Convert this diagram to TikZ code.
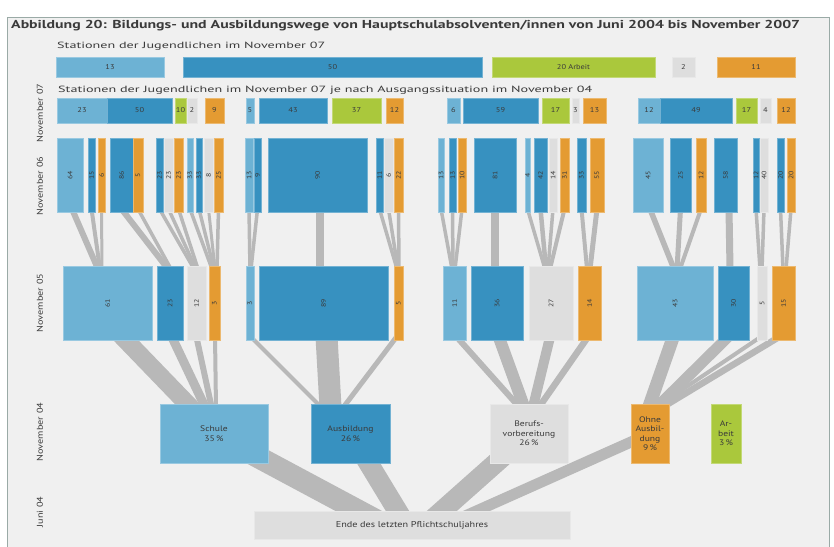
\documentclass[tikz,border=0pt]{standalone}
\usepackage{fontspec}
\usepackage{graphicx}
\setmainfont{PT Sans}[FakeStretch=1.2]
\usetikzlibrary{calc}
\definecolor{lb}{HTML}{6DB2D4}
\definecolor{bl}{HTML}{3791C0}
\definecolor{gr}{HTML}{AAC83C}
\definecolor{gy}{HTML}{DEDEDE}
\definecolor{og}{HTML}{E49B32}
\definecolor{cg}{HTML}{B8B8B8}
\definecolor{bgc}{HTML}{F0F0F0}
\definecolor{txt}{HTML}{3A3A3A}
\definecolor{frm}{HTML}{9AAAA6}
\pgfdeclarelayer{bgl}\pgfdeclarelayer{cnl}\pgfsetlayers{bgl,cnl,main}
\tikzset{
  bxs/.style={inner sep=0pt,outer sep=0pt,line width=0.5pt,text=txt},
  bbox/.style={inner sep=0pt,outer sep=0pt,line width=0.5pt,text=txt,align=center,font=\fontsize{8}{9.5}\selectfont},
  conn/.style={draw=cg,line cap=butt},
  side/.style={rotate=90,text=txt,font=\fontsize{8.5}{10}\selectfont}
}
\newcommand\bx[7]{\node[bxs,fill=#6,draw=#6!70!white,minimum width={(#4-#2)*1pt},minimum height={(#5-#3)*1pt},anchor=north west] (#1) at (#2,#3) {#7};}
\newcommand\rl[1]{\makebox[0pt]{\rotatebox{90}{\fontsize{6.5}{7}\selectfont #1}}}
\newcommand\hl[1]{\makebox[0pt]{\fontsize{7}{8}\selectfont #1}}
\newcommand\cn[6]{\draw[conn,line width=#5pt] ($(#2,0 |- #1.south)+(0,-#6)$) -- ($(#4,0 |- #3.north)+(0,#6)$);}
\begin{document}
\begin{tikzpicture}[x=1pt,y=-1pt]
\useasboundingbox (0,0) rectangle (834,546);
\begin{pgfonlayer}{bgl}
\fill[white] (0,0) rectangle (834,546);
\filldraw[fill=bgc,draw=frm,line width=0.8pt] (7,17) rectangle (829,552);
\end{pgfonlayer}
% texts
\node[anchor=west,inner sep=0,text=txt] (title) at (11,25.5) {\resizebox{789pt}{\height}{\bfseries\fontsize{11.5}{13}\selectfont Abbildung 20: Bildungs- und Ausbildungswege von Hauptschulabsolventen/innen von Juni 2004 bis November 2007}};
\node[anchor=west,inner sep=0,text=txt] (sub1) at (57,46.5) {\resizebox{268pt}{\height}{\fontsize{9}{11}\selectfont Stationen der Jugendlichen im November 07}};
\node[anchor=west,inner sep=0,text=txt] (sub2) at (58,90) {\resizebox{534pt}{\height}{\fontsize{9}{11}\selectfont Stationen der Jugendlichen im November 07 je nach Ausgangssituation im November 04}};
\node[side] (l7) at (40,113) {November 07};
\node[side] (l6) at (40,186) {November 06};
\node[side] (l5) at (40,303) {November 05};
\node[side] (l4) at (40,432) {November 04};
\node[side] (l0) at (40,512) {Juni 04};
% top bars
\bx{t1}{56}{57}{164}{77}{lb}{\hl{13}}
\bx{t2}{183}{57}{482}{77}{bl}{\hl{50}}
\bx{t3}{492}{57}{655}{77}{gr}{\hl{20 Arbeit}}
\bx{t4}{672}{57}{695}{77}{gy}{\hl{2}}
\bx{t5}{717}{57}{795}{77}{og}{\hl{11}}
% November 07
\bx{s1a}{57}{98}{107}{123}{lb}{\hl{23}}
\bx{s1b}{107}{98}{172}{123}{bl}{\hl{50}}
\bx{s1c}{175}{98}{186}{123}{gr}{\hl{10}}
\bx{s1d}{187}{98}{197}{123}{gy}{\hl{2}}
\bx{s1e}{205}{98}{224}{123}{og}{\hl{9}}
\bx{s2a}{246}{98}{254}{123}{lb}{\hl{5}}
\bx{s2b}{259}{98}{327}{123}{bl}{\hl{43}}
\bx{s2c}{332}{98}{381}{123}{gr}{\hl{37}}
\bx{s2d}{386}{98}{403}{123}{og}{\hl{12}}
\bx{s3a}{447}{98}{460}{123}{lb}{\hl{6}}
\bx{s3b}{463}{98}{538}{123}{bl}{\hl{59}}
\bx{s3c}{542}{98}{569}{123}{gr}{\hl{17}}
\bx{s3d}{572}{98}{579}{123}{gy}{\hl{3}}
\bx{s3e}{583}{98}{606}{123}{og}{\hl{13}}
\bx{s4a}{638}{98}{660}{123}{lb}{\hl{12}}
\bx{s4b}{660}{98}{732}{123}{bl}{\hl{49}}
\bx{s4c}{736}{98}{757}{123}{gr}{\hl{17}}
\bx{s4d}{760}{98}{771}{123}{gy}{\hl{4}}
\bx{s4e}{777}{98}{795}{123}{og}{\hl{12}}
% November 06
\bx{p1}{57}{138}{83}{212}{lb}{\rl{64}}
\bx{p2}{88}{138}{95}{212}{bl}{\rl{15}}
\bx{p3}{98}{138}{105}{212}{og}{\rl{6}}
\bx{p4}{110}{138}{133}{212}{bl}{\rl{86}}
\bx{p5}{133}{138}{143}{212}{og}{\rl{5}}
\bx{p6}{156}{138}{163}{212}{bl}{\rl{23}}
\bx{p7}{164}{138}{173}{212}{gy}{\rl{23}}
\bx{p8}{174}{138}{183}{212}{og}{\rl{23}}
\bx{p9}{187}{138}{193}{212}{lb}{\rl{33}}
\bx{p10}{196}{138}{202}{212}{bl}{\rl{33}}
\bx{p11}{204}{138}{213}{212}{gy}{\rl{8}}
\bx{p12}{214}{138}{223}{212}{og}{\rl{25}}
\bx{q1}{245}{138}{253}{212}{lb}{\rl{13}}
\bx{q2}{254}{138}{261}{212}{bl}{\rl{9}}
\bx{q3}{268}{138}{367}{212}{bl}{\rl{90}}
\bx{q4}{376}{138}{383}{212}{bl}{\rl{11}}
\bx{q5}{384}{138}{393}{212}{gy}{\rl{6}}
\bx{q6}{394}{138}{403}{212}{og}{\rl{22}}
\bx{r1}{438}{138}{444}{212}{lb}{\rl{13}}
\bx{r2}{449}{138}{456}{212}{bl}{\rl{13}}
\bx{r3}{458}{138}{466}{212}{og}{\rl{10}}
\bx{r4}{474}{138}{516}{212}{bl}{\rl{81}}
\bx{r5}{525}{138}{530}{212}{lb}{\rl{4}}
\bx{r6}{534}{138}{547}{212}{bl}{\rl{42}}
\bx{r7}{549}{138}{557}{212}{gy}{\rl{14}}
\bx{r8}{560}{138}{569}{212}{og}{\rl{31}}
\bx{r9}{577}{138}{586}{212}{bl}{\rl{33}}
\bx{r10}{590}{138}{604}{212}{og}{\rl{55}}
\bx{u1}{633}{138}{663}{212}{lb}{\rl{45}}
\bx{u2}{670}{138}{691}{212}{bl}{\rl{25}}
\bx{u3}{696}{138}{706}{212}{og}{\rl{12}}
\bx{u4}{714}{138}{737}{212}{bl}{\rl{58}}
\bx{u5}{753}{138}{759}{212}{bl}{\rl{12}}
\bx{u6}{760}{138}{768}{212}{gy}{\rl{40}}
\bx{u7}{777}{138}{784}{212}{bl}{\rl{20}}
\bx{u8}{787}{138}{795}{212}{og}{\rl{20}}
% November 05
\bx{m1a}{63}{266}{152}{340}{lb}{\rl{61}}
\bx{m1b}{157}{266}{183}{340}{bl}{\rl{23}}
\bx{m1c}{187}{266}{206}{340}{gy}{\rl{12}}
\bx{m1d}{209}{266}{220}{340}{og}{\rl{3}}
\bx{m2a}{246}{266}{254}{340}{lb}{\rl{3}}
\bx{m2b}{259}{266}{388}{340}{bl}{\rl{89}}
\bx{m2c}{394}{266}{403}{340}{og}{\rl{5}}
\bx{m3a}{443}{266}{466}{340}{lb}{\rl{11}}
\bx{m3b}{471}{266}{523}{340}{bl}{\rl{36}}
\bx{m3c}{529}{266}{573}{340}{gy}{\rl{27}}
\bx{m3d}{578}{266}{601}{340}{og}{\rl{14}}
\bx{m4a}{637}{266}{713}{340}{lb}{\rl{43}}
\bx{m4b}{718}{266}{749}{340}{bl}{\rl{30}}
\bx{m4c}{757}{266}{767}{340}{gy}{\rl{5}}
\bx{m4d}{772}{266}{795}{340}{og}{\rl{15}}
% November 04
\node[bbox,fill=lb,draw=lb!70!white,minimum width=108pt,minimum height=59pt,anchor=north west] (schule) at (160,404) {Schule\\35\,\%};
\node[bbox,fill=bl,draw=bl!70!white,minimum width=79pt,minimum height=59pt,anchor=north west] (ausb) at (311,404) {Ausbildung\\26\,\%};
\node[bbox,fill=gy,draw=gy!70!white,minimum width=78pt,minimum height=59pt,anchor=north west] (beruf) at (490,404) {Berufs-\\vorbereitung\\26\,\%};
\node[bbox,fill=og,draw=og!70!white,minimum width=38pt,minimum height=59pt,anchor=north west] (ohne) at (631,404) {Ohne\\Ausbil-\\dung\\9\,\%};
\node[bbox,fill=gr,draw=gr!70!white,minimum width=30pt,minimum height=59pt,anchor=north west] (arbeit) at (711,404) {Ar-\\beit\\3\,\%};
\node[bbox,fill=gy,draw=gy!70!white,minimum width=316pt,minimum height=28pt,anchor=north west,font=\fontsize{8.5}{10}\selectfont] (ende) at (254,511) {Ende des letzten Pflichtschuljahres};
% connectors
\begin{pgfonlayer}{cnl}
\cn{p1}{72}{m1a}{98}{6}{3}
\cn{p2}{91.5}{m1a}{100}{4}{3}
\cn{p3}{101.5}{m1a}{102}{3}{3}
\cn{p4}{121.5}{m1b}{168}{6}{3}
\cn{p5}{138}{m1b}{171}{3.5}{3}
\cn{p6}{159.5}{m1c}{194}{3.5}{3}
\cn{p7}{168.5}{m1c}{196}{3.5}{3}
\cn{p8}{178.5}{m1c}{198}{3.5}{3}
\cn{p9}{190}{m1d}{212}{3.5}{3}
\cn{p10}{199}{m1d}{214}{3.5}{3}
\cn{p11}{208.5}{m1d}{215}{3}{3}
\cn{p12}{218.5}{m1d}{217}{3.5}{3}
\cn{q1}{249}{m2a}{250}{3.5}{3}
\cn{q2}{257.5}{m2a}{251}{3.5}{3}
\cn{q3}{320}{m2b}{320}{8}{3}
\cn{q4}{379.5}{m2c}{397}{3.5}{3}
\cn{q5}{388.5}{m2c}{398}{3.5}{3}
\cn{q6}{398.5}{m2c}{399}{3.5}{3}
\cn{r1}{441}{m3a}{452}{3.5}{3}
\cn{r2}{452.5}{m3a}{453}{3.5}{3}
\cn{r3}{462}{m3a}{455}{3.5}{3}
\cn{r4}{495}{m3b}{495}{8}{3}
\cn{r5}{527.5}{m3c}{545}{3.5}{3}
\cn{r6}{540.5}{m3c}{546}{4.5}{3}
\cn{r7}{553}{m3c}{548}{3.5}{3}
\cn{r8}{564.5}{m3c}{550}{4}{3}
\cn{r9}{581.5}{m3d}{587}{4}{3}
\cn{r10}{597}{m3d}{590}{5}{3}
\cn{u1}{650}{m4a}{674}{5.5}{3}
\cn{u2}{680.5}{m4a}{677}{5}{3}
\cn{u3}{701}{m4a}{680}{4}{3}
\cn{u4}{729}{m4b}{730}{7}{3}
\cn{u5}{756}{m4c}{760}{3.5}{3}
\cn{u6}{764}{m4c}{762}{3.5}{3}
\cn{u7}{780.5}{m4d}{783}{3.5}{3}
\cn{u8}{791}{m4d}{786}{3.5}{3}
% Nov 05 -> Nov 04
\cn{m1a}{115}{schule}{198}{18}{11}
\cn{m1b}{170}{schule}{207}{9}{7}
\cn{m1c}{196}{schule}{212}{6}{5}
\cn{m1d}{215}{schule}{216}{4}{4}
\cn{m2a}{250}{ausb}{322}{4}{4}
\cn{m2b}{326}{ausb}{331}{22}{12}
\cn{m2c}{398}{ausb}{342}{5}{5}
\cn{m3a}{455}{beruf}{521}{6}{5}
\cn{m3b}{497}{beruf}{526}{12}{8}
\cn{m3c}{551}{beruf}{532}{10}{7}
\cn{m3d}{590}{beruf}{537}{6.5}{6}
\cn{m4a}{675}{ohne}{647}{13}{8}
\cn{m4b}{733}{ohne}{652}{11}{8}
\cn{m4c}{762}{ohne}{655}{4}{4}
\cn{m4d}{784}{ohne}{658}{6.5}{6}
% Nov 04 -> Juni 04
\draw[conn,line width=22pt] (schule.center) -- ($(385,0 |- ende.north)+(0,14)$);
\draw[conn,line width=20pt] (ausb.center) -- ($(406,0 |- ende.north)+(0,14)$);
\draw[conn,line width=20pt] (beruf.center) -- ($(426,0 |- ende.north)+(0,14)$);
\draw[conn,line width=11pt] (ohne.center) -- ($(445,0 |- ende.north)+(0,14)$);
\end{pgfonlayer}
\end{tikzpicture}
\end{document}
